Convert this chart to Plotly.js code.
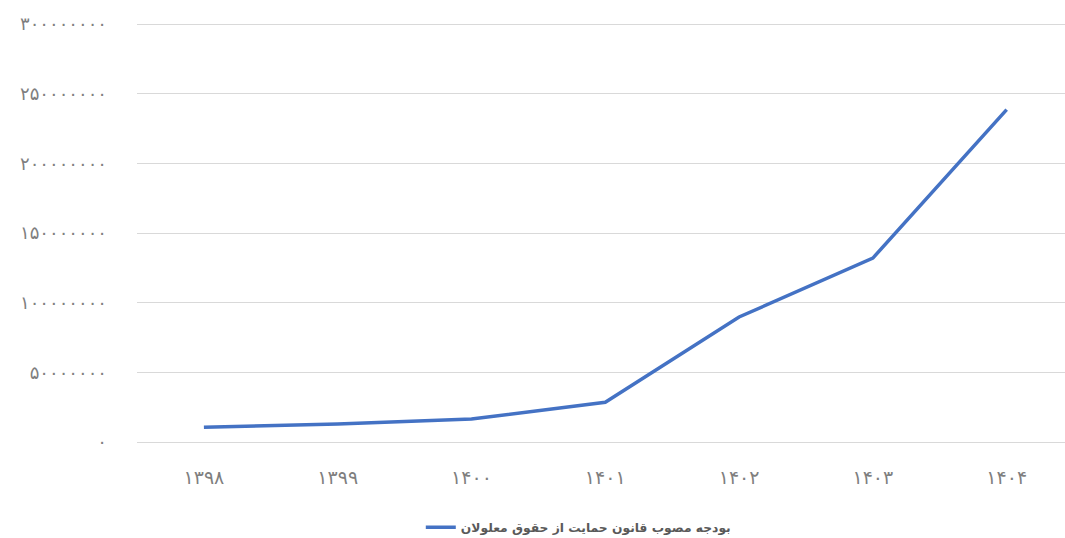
<!DOCTYPE html>
<html>
<head>
<meta charset="utf-8">
<script src="https://cdn.plot.ly/plotly-3.0.1.min.js"></script>
<style>html,body{margin:0;padding:0;background:#fff;}#chart{width:1065px;height:538px;}</style>
</head>
<body>
<div id="chart"></div>
<script>
const years = ['۱۳۹۸', '۱۳۹۹', '۱۴۰۰', '۱۴۰۱', '۱۴۰۲', '۱۴۰۳', '۱۴۰۴'];
const budget = [10500000, 13000000, 16500000, 28500000, 89700000, 132000000, 238500000];
const seriesName = 'بودجه مصوب قانون حمایت از حقوق معلولان';
const yTickVals = [0, 50000000, 100000000, 150000000, 200000000, 250000000, 300000000];
const yTickText = ['۰', '۵۰۰۰۰۰۰۰', '۱۰۰۰۰۰۰۰۰', '۱۵۰۰۰۰۰۰۰', '۲۰۰۰۰۰۰۰۰', '۲۵۰۰۰۰۰۰۰', '۳۰۰۰۰۰۰۰۰'];

const fontFam = 'DejaVu Sans, Noto Sans, sans-serif';
const trace = {
  x: years, y: budget, type: 'scatter', mode: 'lines', name: seriesName,
  line: {color: '#4472C4', width: 3.5}, cliponaxis: false
};
const layout = {
  width: 1065, height: 538,
  margin: {l: 137, r: 0, t: 22, b: 96, autoexpand: false},
  paper_bgcolor: '#fff', plot_bgcolor: '#fff',
  showlegend: true,
  legend: {orientation: 'h', xref: 'container', yref: 'container', x: 0.543, xanchor: 'center', y: 0.02, yanchor: 'middle',
    font: {family: fontFam, size: 12.3, color: '#595959', weight: 'bold'}},
  xaxis: {type: 'category', range: [-0.5, 6.436], showgrid: false, zeroline: false, automargin: false,
    showline: false, ticks: '', ticklabelstandoff: 22,
    tickfont: {family: fontFam, size: 19, color: '#7F7F7F'}},
  yaxis: {range: [0, 301435000], tickvals: yTickVals, ticktext: yTickText, automargin: false,
    showgrid: true, gridcolor: '#D9D9D9', gridwidth: 1, zeroline: true, zerolinecolor: '#D9D9D9', zerolinewidth: 1,
    showline: false, ticks: '', ticklabelstandoff: 29,
    tickfont: {family: fontFam, size: 18, color: '#7F7F7F'}}
};
Plotly.newPlot('chart', [trace], layout, {displayModeBar: false, staticPlot: true});
</script>
</body>
</html>
